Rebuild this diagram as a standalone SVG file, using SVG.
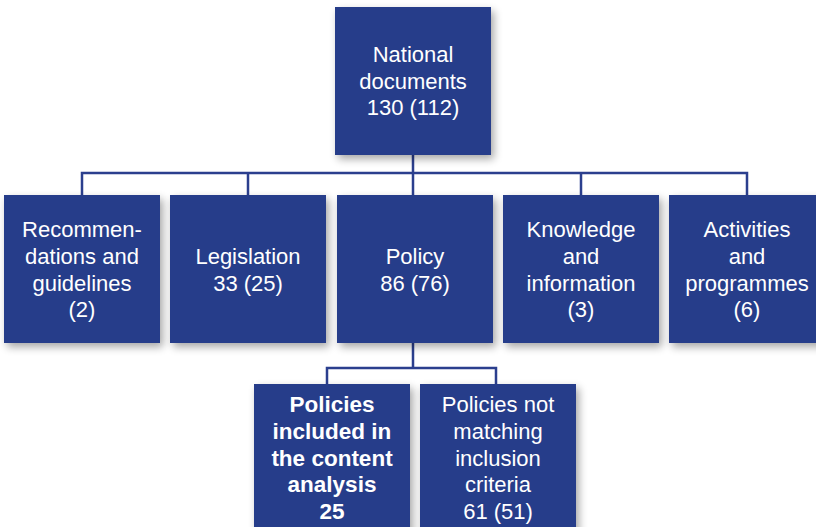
<svg xmlns="http://www.w3.org/2000/svg" width="816" height="527" viewBox="0 0 816 527">
<defs>
<filter id="sh" x="-20%" y="-20%" width="150%" height="150%">
<feGaussianBlur in="SourceAlpha" stdDeviation="4"/>
<feOffset dx="3" dy="4" result="b"/>
<feComponentTransfer><feFuncA type="linear" slope="0.35"/></feComponentTransfer>
<feMerge><feMergeNode/><feMergeNode in="SourceGraphic"/></feMerge>
</filter>
</defs>
<style>
.box{fill:#253d8a;filter:url(#sh)}
.t{font-family:"Liberation Sans",Arial,sans-serif;font-size:22px;fill:#fff;text-anchor:middle}
.b{font-weight:bold;font-size:22.5px}
.c{stroke:#2b3f8e;stroke-width:2.5;fill:none}
</style>
<rect width="816" height="527" fill="#fff"/>
<g id="connectors">
<path class="c" d="M413 155V195M82 195V173H747V195M248 173V195M581 173V195"/>
<path class="c" d="M413 343V368M327 384V368H496V384"/>
</g>
<g id="national">
<rect class="box" x="335" y="7" width="156" height="148"/>
<text class="t" x="413" y="62">National</text>
<text class="t" x="413" y="89">documents</text>
<text class="t" x="413" y="115">130 (112)</text>
</g>
<g id="recommendations">
<rect class="box" x="4" y="195" width="156" height="148"/>
<text class="t" x="82" y="237">Recommen-</text>
<text class="t" x="82" y="264">dations and</text>
<text class="t" x="82" y="291">guidelines</text>
<text class="t" x="82" y="317">(2)</text>
</g>
<g id="legislation">
<rect class="box" x="170" y="195" width="156" height="148"/>
<text class="t" x="248" y="264">Legislation</text>
<text class="t" x="248" y="291">33 (25)</text>
</g>
<g id="policy">
<rect class="box" x="337" y="195" width="156" height="148"/>
<text class="t" x="415" y="264">Policy</text>
<text class="t" x="415" y="291">86 (76)</text>
</g>
<g id="knowledge">
<rect class="box" x="503" y="195" width="156" height="148"/>
<text class="t" x="581" y="237">Knowledge</text>
<text class="t" x="581" y="264">and</text>
<text class="t" x="581" y="291">information</text>
<text class="t" x="581" y="317">(3)</text>
</g>
<g id="activities">
<rect class="box" x="669" y="195" width="156" height="148"/>
<text class="t" x="747" y="237">Activities</text>
<text class="t" x="747" y="264">and</text>
<text class="t" x="747" y="291">programmes</text>
<text class="t" x="747" y="317">(6)</text>
</g>
<g id="included">
<rect class="box" x="254" y="384" width="156" height="150"/>
<text class="t b" x="332" y="412">Policies</text>
<text class="t b" x="332" y="439">included in</text>
<text class="t b" x="332" y="466">the content</text>
<text class="t b" x="332" y="492">analysis</text>
<text class="t b" x="332" y="519">25</text>
</g>
<g id="notmatching">
<rect class="box" x="420" y="384" width="156" height="150"/>
<text class="t" x="498" y="412">Policies not</text>
<text class="t" x="498" y="439">matching</text>
<text class="t" x="498" y="466">inclusion</text>
<text class="t" x="498" y="492">criteria</text>
<text class="t" x="498" y="519">61 (51)</text>
</g>
</svg>
